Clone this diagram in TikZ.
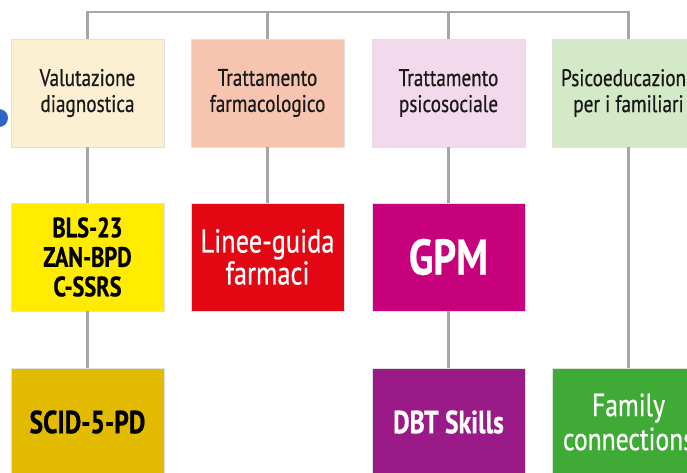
\documentclass[tikz,border=0pt]{standalone}
\usepackage{fontspec}
\setmainfont{PT Sans}
\newfontfamily\cond[FakeStretch=0.8,FakeBold=0.6]{PT Sans}
\usepackage{xcolor}
\usepackage{tikz}
\usetikzlibrary{positioning,calc}

\definecolor{cream}{HTML}{FCF0D2}
\definecolor{salmon}{HTML}{F7C4AF}
\definecolor{lilac}{HTML}{F2D9EC}
\definecolor{sage}{HTML}{D4E9C8}
\definecolor{lemon}{HTML}{FFEC00}
\definecolor{scarlet}{HTML}{E30613}
\definecolor{fuchsia}{HTML}{C7007B}
\definecolor{mustard}{HTML}{E2BB00}
\definecolor{plum}{HTML}{9A1A88}
\definecolor{leaf}{HTML}{40AA36}
\definecolor{dot}{HTML}{2E64C6}

\begin{document}
\begin{tikzpicture}[x=1pt,y=-1pt,
  box/.style={draw=black!12,line width=0.8pt,minimum width=153pt,minimum height=108pt,
    inner sep=0pt,align=center},
  area/.style={box,text=black!90,font=\cond\fontsize{24}{26}\selectfont},
  link/.style={draw=black!35,line width=2.5pt}]
  \useasboundingbox (0,0) rectangle (687,472);
  % blue marker on the left
  \fill[dot] (-1,118) circle (9);
  % first row: areas
  \node[area,fill=cream] (val) at (87.5,93) {Valutazione\\diagnostica};
  \node[area,fill=salmon] (far) at (267.5,93) {Trattamento\\farmacologico};
  \node[area,fill=lilac] (soc) at (448.5,93) {Trattamento\\psicosociale};
  \node[area,fill=sage] (psi) at (628.5,93) {Psicoeducazione\\per i familiari};
  % second row
  \node[box,fill=lemon,font=\cond\fontsize{28}{29.5}\selectfont\bfseries] (bls) at (87.5,257) {BLS-23\\ZAN-BPD\\C-SSRS};
  \node[box,fill=scarlet,text=white,font=\cond\fontsize{33}{32}\selectfont] (gui) at (267.5,257) {Linee-guida\\farmaci};
  \node[box,fill=fuchsia,text=white,font=\cond\fontsize{50}{50}\selectfont\bfseries] (gpm) at (448.5,257) {GPM};
  % third row
  \node[box,fill=mustard,font=\cond\fontsize{32}{32}\selectfont\bfseries] (scid) at (87.5,422) {SCID-5-PD};
  \node[box,fill=plum,text=white,font=\cond\fontsize{32}{32}\selectfont\bfseries] (dbt) at (448.5,422) {DBT Skills};
  \node[box,fill=leaf,text=white,font=\cond\fontsize{32}{34}\selectfont] (fam) at (628.5,422) {Family\\connections};
  % top bar
  \coordinate (bar) at (0,12);
  \draw[link] (val.north) -- (val.north |- bar) -| (psi.north);
  \draw[link] (far.north) -- (far.north |- bar);
  \draw[link] (soc.north) -- (soc.north |- bar);
  % columns
  \draw[link] (val) -- (bls);
  \draw[link] (bls) -- (scid);
  \draw[link] (far) -- (gui);
  \draw[link] (soc) -- (gpm);
  \draw[link] (gpm) -- (dbt);
  \draw[link] (psi) -- (fam);
\end{tikzpicture}
\end{document}
